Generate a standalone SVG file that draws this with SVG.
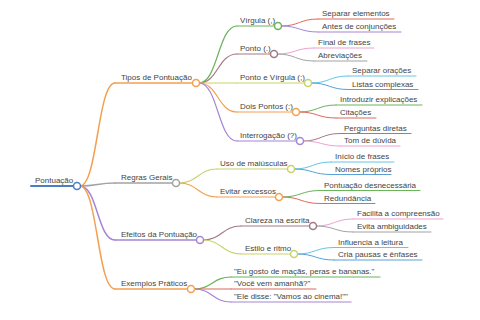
<svg xmlns="http://www.w3.org/2000/svg" width="480" height="320" viewBox="0 0 480 320">
<style>
text{font-family:"Liberation Sans",Arial,sans-serif;font-size:8px;fill:#444}
path,line{fill:none;stroke-linecap:round}
circle{fill:#fff;stroke-width:1.5}
.l0{stroke-width:2}.l1{stroke-width:1.5}.l2{stroke-width:1.2}.l3{stroke-width:1}
.blue{stroke:#4a7fc1}.orange{stroke:#f4a050}.gray{stroke:#a3a3a3}.purple{stroke:#a585d6}
.green{stroke:#6ab45a}.brown{stroke:#a27a84}.yg{stroke:#c9d36a}.red{stroke:#e0695f}
.pink{stroke:#ee9fd4}.cyan{stroke:#62c7e0}.blue2{stroke:#5a9fd6}
</style>
<rect width="480" height="320" fill="#fff"/>
<g id="connectors">
<path class="l1 orange" d="M80 186C97.5 186 97.5 83 115 83"/>
<path class="l1 gray" d="M80 186C97.5 186 97.5 183 115 183"/>
<path class="l1 purple" d="M80 186C97.5 186 97.5 240 115 240"/>
<path class="l1 orange" d="M80 186C97.5 186 97.5 289 115 289"/>
<path class="l2 green" d="M199 83C218 83 218 26 237 26"/>
<path class="l2 brown" d="M199 83C218 83 218 54 237 54"/>
<path class="l2 yg" d="M199 83C218 83 218 83 237 83"/>
<path class="l2 orange" d="M199 83C218 83 218 112 237 112"/>
<path class="l2 purple" d="M199 83C218 83 218 141 237 141"/>
<path class="l2 yg" d="M179 183C198 183 198 169 217 169"/>
<path class="l2 orange" d="M179 183C198 183 198 197 217 197"/>
<path class="l2 brown" d="M203 240C222 240 222 226 241 226"/>
<path class="l2 yg" d="M203 240C222 240 222 254 241 254"/>
<path class="l2 green" d="M194 289C212.5 289 212.5 277 231 277"/>
<path class="l2 red" d="M194 289C212.5 289 212.5 289 231 289"/>
<path class="l2 purple" d="M194 289C212.5 289 212.5 302 231 302"/>
<path class="l3 red" d="M281 26C299.5 26 299.5 19 318 19"/>
<path class="l3 purple" d="M281 26C299.5 26 299.5 32 318 32"/>
<path class="l3 pink" d="M277 54C295.5 54 295.5 48 314 48"/>
<path class="l3 gray" d="M277 54C295.5 54 295.5 61 314 61"/>
<path class="l3 cyan" d="M311 83C329.5 83 329.5 76 348 76"/>
<path class="l3 blue2" d="M311 83C329.5 83 329.5 89.5 348 89.5"/>
<path class="l3 green" d="M299 112C317.5 112 317.5 105 336 105"/>
<path class="l3 red" d="M299 112C317.5 112 317.5 118 336 118"/>
<path class="l3 brown" d="M303 141C321.5 141 321.5 133.5 340 133.5"/>
<path class="l3 pink" d="M303 141C321.5 141 321.5 146 340 146"/>
<path class="l3 cyan" d="M294 169C312.5 169 312.5 162 331 162"/>
<path class="l3 blue2" d="M294 169C312.5 169 312.5 174.5 331 174.5"/>
<path class="l3 green" d="M282 197C301 197 301 190.5 320 190.5"/>
<path class="l3 red" d="M282 197C301 197 301 203.5 320 203.5"/>
<path class="l3 pink" d="M316 226C334.5 226 334.5 219 353 219"/>
<path class="l3 gray" d="M316 226C334.5 226 334.5 232 353 232"/>
<path class="l3 cyan" d="M297 254C315.5 254 315.5 247.5 334 247.5"/>
<path class="l3 blue2" d="M297 254C315.5 254 315.5 260 334 260"/>
</g>
<g id="root"><line class="l0 blue" x1="31" y1="186" x2="74" y2="186"/><circle class="blue" cx="77" cy="186" r="3.5"/><text x="35" y="183">Pontuação</text></g>
<g id="tipos"><line class="l1 orange" x1="115" y1="83" x2="192.5" y2="83"/><circle class="orange" cx="196" cy="83" r="3.5"/><text x="121" y="80">Tipos de Pontuação</text></g>
<g id="regras"><line class="l1 gray" x1="115" y1="183" x2="172.5" y2="183"/><circle class="gray" cx="176" cy="183" r="3.5"/><text x="121" y="180">Regras Gerais</text></g>
<g id="efeitos"><line class="l1 purple" x1="115" y1="240" x2="196.5" y2="240"/><circle class="purple" cx="200" cy="240" r="3.5"/><text x="121" y="237">Efeitos da Pontuação</text></g>
<g id="exemplos"><line class="l1 orange" x1="115" y1="289" x2="187.5" y2="289"/><circle class="orange" cx="191" cy="289" r="3.5"/><text x="121" y="286">Exemplos Práticos</text></g>
<g id="virgula"><line class="l2 green" x1="237" y1="26" x2="274.5" y2="26"/><circle class="green" cx="278" cy="26" r="3.5"/><text x="240" y="23">Vírgula (,)</text></g>
<g id="ponto"><line class="l2 brown" x1="237" y1="54" x2="270.5" y2="54"/><circle class="brown" cx="274" cy="54" r="3.5"/><text x="240" y="51">Ponto (.)</text></g>
<g id="pontovirgula"><line class="l2 yg" x1="237" y1="83" x2="304.5" y2="83"/><circle class="yg" cx="308" cy="83" r="3.5"/><text x="240" y="80">Ponto e Vírgula (;)</text></g>
<g id="doispontos"><line class="l2 orange" x1="237" y1="112" x2="292.5" y2="112"/><circle class="orange" cx="296" cy="112" r="3.5"/><text x="240" y="109">Dois Pontos (:)</text></g>
<g id="interrogacao"><line class="l2 purple" x1="237" y1="141" x2="296.5" y2="141"/><circle class="purple" cx="300" cy="141" r="3.5"/><text x="240" y="138">Interrogação (?)</text></g>
<g id="maiusculas"><line class="l2 yg" x1="217" y1="169" x2="287.5" y2="169"/><circle class="yg" cx="291" cy="169" r="3.5"/><text x="220" y="166">Uso de maiúsculas</text></g>
<g id="excessos"><line class="l2 orange" x1="217" y1="197" x2="275.5" y2="197"/><circle class="orange" cx="279" cy="197" r="3.5"/><text x="220" y="194">Evitar excessos</text></g>
<g id="clareza"><line class="l2 brown" x1="241" y1="226" x2="309.5" y2="226"/><circle class="brown" cx="313" cy="226" r="3.5"/><text x="245" y="223">Clareza na escrita</text></g>
<g id="estilo"><line class="l2 yg" x1="241" y1="254" x2="290.5" y2="254"/><circle class="yg" cx="294" cy="254" r="3.5"/><text x="245" y="251">Estilo e ritmo</text></g>
<g id="ex1"><line class="l2 green" x1="231" y1="277" x2="380" y2="277"/><text x="234" y="274">"Eu gosto de maçãs, peras e bananas."</text></g>
<g id="ex2"><line class="l2 red" x1="231" y1="289" x2="316" y2="289"/><text x="234" y="286">"Você vem amanhã?"</text></g>
<g id="ex3"><line class="l2 purple" x1="231" y1="302" x2="351" y2="302"/><text x="234" y="299">"Ele disse: "Vamos ao cinema!""</text></g>
<g id="n-separar-elementos"><line class="l3 red" x1="318" y1="19" x2="394" y2="19"/><text x="322" y="16">Separar elementos</text></g>
<g id="n-antes"><line class="l3 purple" x1="318" y1="32" x2="401" y2="32"/><text x="322" y="29">Antes de conjunções</text></g>
<g id="n-final"><line class="l3 pink" x1="314" y1="48" x2="374" y2="48"/><text x="318" y="45">Final de frases</text></g>
<g id="n-abrev"><line class="l3 gray" x1="314" y1="61" x2="367" y2="61"/><text x="318" y="58">Abreviações</text></g>
<g id="n-separar-oracoes"><line class="l3 cyan" x1="348" y1="76" x2="416" y2="76"/><text x="352" y="73">Separar orações</text></g>
<g id="n-listas"><line class="l3 blue2" x1="348" y1="89.5" x2="418" y2="89.5"/><text x="352" y="86.5">Listas complexas</text></g>
<g id="n-introduzir"><line class="l3 green" x1="336" y1="105" x2="422" y2="105"/><text x="340" y="102">Introduzir explicações</text></g>
<g id="n-citacoes"><line class="l3 red" x1="336" y1="118" x2="376" y2="118"/><text x="340" y="115">Citações</text></g>
<g id="n-perguntas"><line class="l3 brown" x1="340" y1="133.5" x2="411" y2="133.5"/><text x="344" y="130.5">Perguntas diretas</text></g>
<g id="n-tom"><line class="l3 pink" x1="340" y1="146" x2="400" y2="146"/><text x="344" y="143">Tom de dúvida</text></g>
<g id="n-inicio"><line class="l3 cyan" x1="331" y1="162" x2="394" y2="162"/><text x="335" y="159">Início de frases</text></g>
<g id="n-nomes"><line class="l3 blue2" x1="331" y1="174.5" x2="391" y2="174.5"/><text x="335" y="171.5">Nomes próprios</text></g>
<g id="n-desnecessaria"><line class="l3 green" x1="320" y1="190.5" x2="420" y2="190.5"/><text x="324" y="187.5">Pontuação desnecessária</text></g>
<g id="n-redundancia"><line class="l3 red" x1="320" y1="203.5" x2="375" y2="203.5"/><text x="324" y="200.5">Redundância</text></g>
<g id="n-facilita"><line class="l3 pink" x1="353" y1="219" x2="443" y2="219"/><text x="357" y="216">Facilita a compreensão</text></g>
<g id="n-evita"><line class="l3 gray" x1="353" y1="232" x2="431" y2="232"/><text x="357" y="229">Evita ambiguidades</text></g>
<g id="n-influencia"><line class="l3 cyan" x1="334" y1="247.5" x2="408" y2="247.5"/><text x="338" y="244.5">Influencia a leitura</text></g>
<g id="n-cria"><line class="l3 blue2" x1="334" y1="260" x2="422" y2="260"/><text x="338" y="257">Cria pausas e ênfases</text></g>
</svg>
